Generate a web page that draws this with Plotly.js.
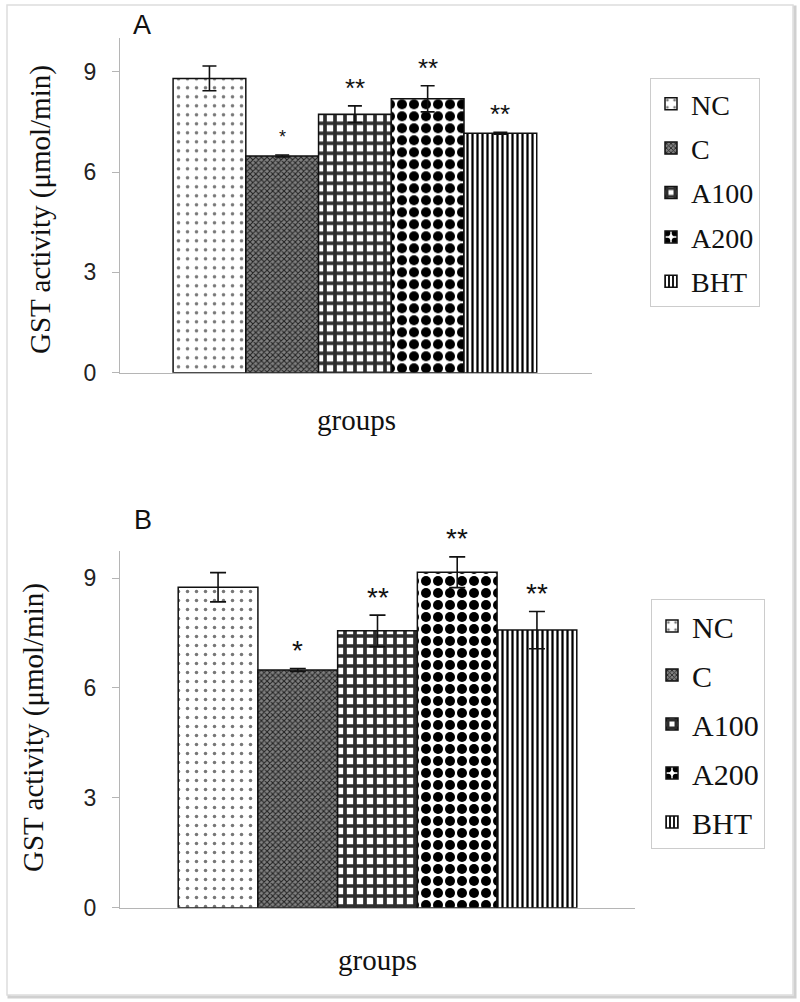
<!DOCTYPE html>
<html><head><meta charset="utf-8">
<script src="https://cdn.plot.ly/plotly-3.0.1.min.js"></script>
<style>html,body{margin:0;padding:0;background:#fff}#chart{width:800px;height:1002px}</style>
</head><body><div id="chart"></div>
<script>
// ---- data ----
const groups = ["NC", "C", "A100", "A200", "BHT"];
const valuesA = [8.80, 6.48, 7.73, 8.19, 7.16];
const errorsA = [0.37, 0.03, 0.25, 0.39, 0.03];
const starsA  = ["", "*", "**", "**", "**"];
const valuesB = [8.75, 6.49, 7.56, 9.16, 7.58];
const errorsB = [0.40, 0.04, 0.43, 0.42, 0.51];
const starsB  = ["", "*", "**", "**", "**"];
const yTicks = [0, 3, 6, 9];
const yTitle = "GST activity (μmol/min)";
const xTitle = "groups";
const panelLabels = ["A", "B"];

// ---- styles ----
const W = 800, H = 1002;
const px = v => v / W, py = v => 1 - v / H;
const patterns = [
  {bg: "#ffffff", pattern: {shape: ".", fgcolor: "#777", bgcolor: "#ffffff", size: 9, solidity: 0.12}},
  {bg: "#6e6e6e", pattern: {shape: "x", fgcolor: "#222222", bgcolor: "#808080", size: 4, solidity: 0.45}},
  {bg: "#ffffff", pattern: {shape: "+", fgcolor: "#2e2e2e", bgcolor: "#ffffff", size: 10, solidity: 0.6}},
  {bg: "#ffffff", pattern: {shape: ".", fgcolor: "#000000", bgcolor: "#ffffff", size: 12, solidity: 0.55}},
  {bg: "#ffffff", pattern: {shape: "|", fgcolor: "#000000", bgcolor: "#ffffff", size: 5, solidity: 0.45}}
];

const panels = [
  {vals: valuesA, errs: errorsA, stars: starsA, xa: "x", ya: "y", leg: "legend", cap: 7, starSize: [0, 18, 26, 26, 26]},
  {vals: valuesB, errs: errorsB, stars: starsB, xa: "x2", ya: "y2", leg: "legend2", cap: 8, starSize: [0, 28, 28, 28, 28]}
];

const traces = [];
const annotations = [];
panels.forEach((p, pi) => {
  groups.forEach((g, i) => {
    traces.push({
      type: "bar",
      x: [g], y: [p.vals[i]], name: g,
      xaxis: p.xa, yaxis: p.ya, legend: p.leg,
      legendgroup: p.leg + g,
      hoverinfo: "skip",
      marker: {color: patterns[i].bg, line: {color: "#111", width: 1.5}, pattern: patterns[i].pattern},
      error_y: {type: "data", array: [p.errs[i]], visible: true, color: "#111", thickness: 1.6, width: p.cap}
    });
    if (p.stars[i]) {
      annotations.push({
        xref: p.xa, yref: p.ya, x: g, y: p.vals[i] + p.errs[i],
        text: p.stars[i], showarrow: false, xanchor: "center", yanchor: "middle", yshift: 18,
        font: {family: "Liberation Sans", size: p.starSize[i], color: "#111"}
      });
    }
  });
});

const lbl = (x, y, text, font, angle) => ({
  xref: "paper", yref: "paper", x: px(x), y: py(y), text: text, showarrow: false,
  xanchor: "center", yanchor: "middle", textangle: angle || 0, font: font
});
const serif = {family: "Liberation Serif", size: 29, color: "#111"};
const sans = {family: "Liberation Sans", size: 27, color: "#111"};
annotations.push(
  lbl(40, 210, yTitle, serif, -90),
  lbl(33, 728, yTitle, serif, -90),
  lbl(356, 420, xTitle, serif),
  lbl(377, 960, xTitle, serif),
  lbl(142, 25, panelLabels[0], sans),
  lbl(143, 520, panelLabels[1], sans)
);

const yaxisBase = {
  tickvals: yTicks, ticks: "outside", ticklen: 7, tickcolor: "#b5b5b5", tickwidth: 1,
  showline: true, linecolor: "#b5b5b5", linewidth: 1, showgrid: false, zeroline: false,
  ticklabelstandoff: 11,
  tickfont: {family: "Liberation Sans", size: 23, color: "#222"}, fixedrange: true
};
const xaxisBase = {
  type: "category", categoryorder: "array", categoryarray: groups,
  showline: true, linecolor: "#b5b5b5", linewidth: 1, showticklabels: false, ticks: "",
  showgrid: false, zeroline: false, fixedrange: true
};

const legendBase = {
  xanchor: "left", yanchor: "top", bordercolor: "#cccccc", borderwidth: 1, bgcolor: "#ffffff",
  traceorder: "grouped", font: {family: "Liberation Serif", size: 28, color: "#111"}
};

const layout = {
  width: W, height: H,
  margin: {l: 0, r: 0, t: 0, b: 0},
  paper_bgcolor: "#ffffff", plot_bgcolor: "rgba(0,0,0,0)",
  barmode: "overlay", bargap: 0,
  xaxis: Object.assign({}, xaxisBase, {domain: [px(120), px(592)], anchor: "y", range: [-1.23, 5.26]}),
  yaxis: Object.assign({}, yaxisBase, {domain: [py(372.7), py(38.3)], anchor: "x", range: [0, 10]}),
  xaxis2: Object.assign({}, xaxisBase, {domain: [px(120), px(635)], anchor: "y2", range: [-1.23, 5.23]}),
  yaxis2: Object.assign({}, yaxisBase, {domain: [py(907.7), py(551)], anchor: "x2", range: [0, 9.74]}),
  legend: Object.assign({}, legendBase, {x: px(650), y: py(78), tracegroupgap: 5}),
  legend2: Object.assign({}, legendBase, {x: px(651), y: py(599), tracegroupgap: 7,
    font: {family: "Liberation Serif", size: 30, color: "#111"}}),
  annotations: annotations,
  shapes: [
    {type: "rect", xref: "paper", yref: "paper", x0: px(9), x1: px(795), y0: py(997), y1: py(7),
     line: {color: "#d0d0d0", width: 3}, layer: "below"},
    {type: "rect", xref: "paper", yref: "paper", x0: px(7), x1: px(793), y0: py(995), y1: py(5),
     line: {color: "#dddddd", width: 1.5}, fillcolor: "#ffffff", layer: "below"}
  ],
  showlegend: true
};

Plotly.newPlot("chart", traces, layout, {displayModeBar: false, staticPlot: true});
</script>
</body></html>
